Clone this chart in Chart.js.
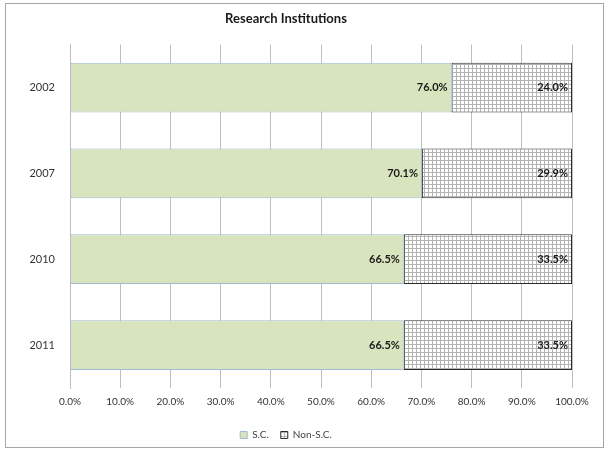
<!DOCTYPE html>
<html>
<head>
<meta charset="utf-8">
<script src="https://cdn.jsdelivr.net/npm/chart.js@4/dist/chart.umd.min.js"></script>
<style>
  body { margin: 0; background: #fff; }
  #wrap { width: 609px; height: 451px; position: relative; }
</style>
</head>
<body>
<div id="wrap"><canvas id="myChart" width="609" height="451"></canvas></div>
<script>
// data
var anni = ["2002", "2007", "2010", "2011"];
var sc = [76.0, 70.1, 66.5, 66.5];
var non_sc = [24.0, 29.9, 33.5, 33.5];
var tick_labels = ["0.0%", "10.0%", "20.0%", "30.0%", "40.0%", "50.0%", "60.0%", "70.0%", "80.0%", "90.0%", "100.0%"];

var FONT = "Lato, 'Open Sans', sans-serif";

// grid pattern for Non-S.C.
var pc = document.createElement('canvas');
pc.width = 4;
pc.height = 4;
var pctx = pc.getContext('2d');
pctx.fillStyle = '#ffffff';
pctx.fillRect(0, 0, 4, 4);
pctx.fillStyle = '#b4b4b4';
pctx.fillRect(0, 0, 4, 1);
pctx.fillRect(0, 0, 1, 4);
var griglia = pctx.createPattern(pc, 'repeat');

// frame + white background
var cornice = {
  id: 'cornice',
  beforeDraw: function (chart) {
    var c = chart.ctx;
    c.save();
    c.fillStyle = '#ffffff';
    c.fillRect(0, 0, chart.width, chart.height);
    c.strokeStyle = '#a6a6a6';
    c.lineWidth = 1;
    c.strokeRect(5.5, 3.5, 598, 444);
    c.restore();
  }
};

// values written at the inner end of each bar
var etichette = {
  id: 'etichette',
  afterDatasetsDraw: function (chart) {
    var c = chart.ctx;
    c.save();
    c.font = "bold 11px " + FONT;
    c.fillStyle = '#1a1a1a';
    c.textAlign = 'right';
    c.textBaseline = 'middle';
    chart.data.datasets.forEach(function (ds, i) {
      var meta = chart.getDatasetMeta(i);
      meta.data.forEach(function (bar, j) {
        c.fillText(ds.data[j].toFixed(1) + "%", bar.x - 4, bar.y);
      });
    });
    c.restore();
  }
};

var ctx = document.getElementById('myChart').getContext('2d');
var myChart = new Chart(ctx, {
  type: 'bar',
  data: {
    labels: anni,
    datasets: [{
      label: 'S.C.',
      data: sc,
      backgroundColor: '#d7e4bd',
      borderColor: '#a3b9d2',
      borderWidth: 1,
      borderSkipped: false,
      barPercentage: 1,
      categoryPercentage: 0.58
    }, {
      label: 'Non-S.C.',
      data: non_sc,
      backgroundColor: griglia,
      borderColor: '#2b2b2b',
      borderWidth: 1,
      borderSkipped: false,
      barPercentage: 1,
      categoryPercentage: 0.58
    }]
  },
  options: {
    indexAxis: 'y',
    responsive: false,
    animation: false,
    layout: { padding: { top: 0, left: 0, right: 37, bottom: 1 } },
    plugins: {
      title: {
        display: true,
        text: 'Research Institutions',
        color: '#1a1a1a',
        font: { family: FONT, size: 13, weight: 'bold' },
        padding: { top: 11, bottom: 18 }
      },
      legend: {
        position: 'bottom',
        labels: {
          boxWidth: 7,
          boxHeight: 7,
          padding: 12,
          color: '#444',
          font: { family: FONT, size: 10 }
        }
      },
      tooltip: { enabled: false }
    },
    scales: {
      x: {
        stacked: true,
        min: 0,
        max: 100,
        ticks: {
          stepSize: 10,
          padding: 8,
          color: '#333',
          font: { family: FONT, size: 10 },
          callback: function (v, i) { return tick_labels[i]; }
        },
        grid: { color: '#bfbfbf', drawTicks: false },
        border: { display: false },
        afterFit: function (s) { s.height = 30; }
      },
      y: {
        stacked: true,
        ticks: {
          padding: 15,
          color: '#333',
          font: { family: FONT, size: 11 }
        },
        grid: { display: false, drawTicks: false },
        border: { display: true, color: '#bfbfbf' },
        afterFit: function (s) { s.width = 70; }
      }
    }
  },
  plugins: [cornice, etichette]
});
</script>
</body>
</html>
